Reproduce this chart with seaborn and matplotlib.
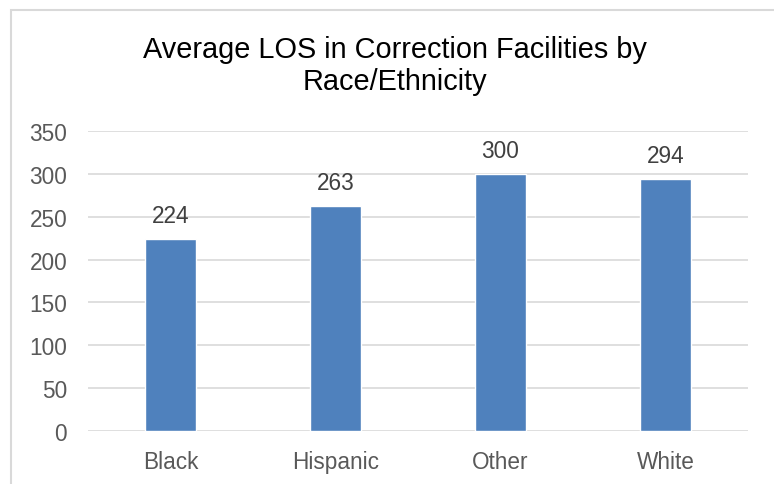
import matplotlib
matplotlib.use("Agg")
import matplotlib.pyplot as plt
import seaborn as sns
import pandas as pd
from matplotlib.patches import Rectangle

categories = ["Black", "Hispanic", "Other", "White"]
avg_los = [224, 263, 300, 294]
y_ticks = [0, 50, 100, 150, 200, 250, 300, 350]

df = pd.DataFrame({"group": categories, "los": avg_los})

sns.set_theme(style="white")
plt.rcParams["font.family"] = ["Liberation Sans", "DejaVu Sans"]

fig = plt.figure(figsize=(7.74, 4.85), dpi=100)
ax = fig.add_axes([88 / 774, 1 - 432 / 485, 660 / 774, 300 / 485])

sns.barplot(data=df, x="group", y="los", color="#4F81BD", saturation=1,
            width=0.315, ax=ax, zorder=3)

ax.set_ylim(0, 350)
ax.set_yticks(y_ticks)
ax.set_xlim(-0.5, 3.5)
ax.yaxis.grid(True, color="#D9D9D9", linewidth=1.2, zorder=0)
ax.xaxis.grid(False)
for s in ax.spines.values():
    s.set_visible(False)
ax.set_xlabel("")
ax.set_ylabel("")
ax.tick_params(axis="both", length=0, labelsize=16.3, colors="#595959")
ax.tick_params(axis="y", pad=15)
ax.tick_params(axis="x", pad=13.5)

for container in ax.containers:
    ax.bar_label(container, labels=[str(v) for v in avg_los], padding=8.5,
                 fontsize=16.3, color="#404040")

fig.text(395 / 774, 1 - 66 / 485,
         "Average LOS in Correction Facilities by\nRace/Ethnicity",
         ha="center", va="center", fontsize=20.8, color="#000000",
         linespacing=1.22)

# chart frame
fig.add_artist(Rectangle((10.5 / 774, -0.1), 1.2, (485 - 10.5) / 485 + 0.1,
                         transform=fig.transFigure, fill=False,
                         edgecolor="#D9D9D9", linewidth=1.5))

fig.savefig("out.png", dpi=100)
